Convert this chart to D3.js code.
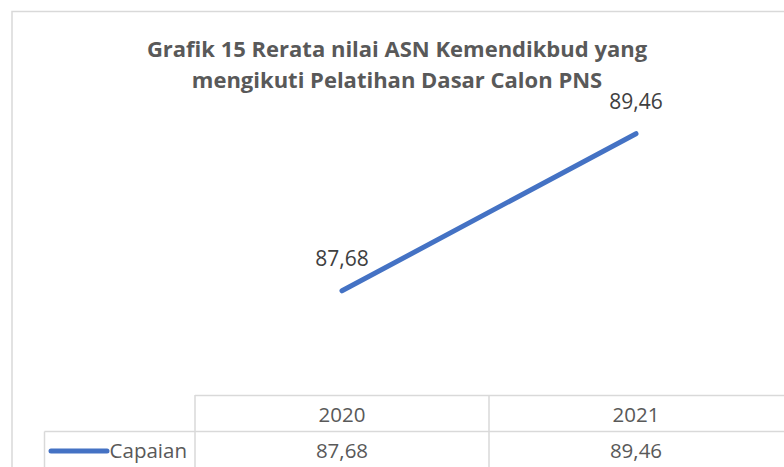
<!DOCTYPE html>
<html>
<head>
<meta charset="utf-8">
<script src="https://cdn.jsdelivr.net/npm/d3@7"></script>
<style>
  body { margin: 0; background: #fff; }
  svg { display: block; font-family: "Open Sans", sans-serif; }
</style>
</head>
<body>
<svg id="chart"></svg>
<script>
// data
var years = ["2020", "2021"];
var capaian = [87.68, 89.46];
var seriesName = "Capaian";
var titleLines = ["Grafik 15 Rerata nilai ASN Kemendikbud yang", "mengikuti Pelatihan Dasar Calon PNS"];
var yDomain = [86.5, 90];

const width = 784,
    height = 467;

const fmt = v => d3.format(".2f")(v).replace(".", ",");

const svg = d3.select("#chart")
    .attr("width", width)
    .attr("height", height);

// chart frame (right and bottom edges fall outside the crop)
svg.append("rect")
    .attr("x", 12).attr("y", 11.5)
    .attr("width", 820).attr("height", 500)
    .attr("fill", "#fff")
    .attr("stroke", "#d9d9d9")
    .attr("stroke-width", 1.5);

// title
svg.append("g").selectAll("text")
    .data(titleLines)
    .enter().append("text")
    .attr("x", 397)
    .attr("y", (d, i) => 57 + i * 31)
    .attr("text-anchor", "middle")
    .attr("font-size", 22)
    .attr("font-weight", "bold")
    .attr("fill", "#595959")
    .text(d => d);

const x = d3.scaleBand()
    .domain(years)
    .range([195, 783]);

const y = d3.scaleLinear()
    .domain(yDomain)
    .range([395, 86]);

const points = years.map((yr, i) => ({ year: yr, value: capaian[i] }));

const line = d3.line()
    .x(d => x(d.year) + x.bandwidth() / 2)
    .y(d => y(d.value));

svg.append("path")
    .datum(points)
    .attr("d", line)
    .attr("fill", "none")
    .attr("stroke", "#4472c4")
    .attr("stroke-width", 5)
    .attr("stroke-linecap", "round");

// data labels
svg.append("g").selectAll("text")
    .data(points)
    .enter().append("text")
    .attr("x", d => x(d.year) + x.bandwidth() / 2)
    .attr("y", d => y(d.value) - 25)
    .attr("text-anchor", "middle")
    .attr("font-size", 21)
    .attr("fill", "#404040")
    .text(d => fmt(d.value));

// data table under the plot
const tTop = y.range()[0],
    rowH = 37,
    legendLeft = 44.5;
const grid = svg.append("g")
    .attr("stroke", "#d9d9d9")
    .attr("stroke-width", 1.5);

grid.append("line")
    .attr("x1", x.range()[0]).attr("x2", width)
    .attr("y1", tTop + 0.5).attr("y2", tTop + 0.5);
grid.append("line")
    .attr("x1", legendLeft).attr("x2", width)
    .attr("y1", tTop + rowH - 0.5).attr("y2", tTop + rowH - 0.5);
grid.append("line")
    .attr("x1", legendLeft).attr("x2", legendLeft)
    .attr("y1", tTop + rowH - 0.5).attr("y2", height);
grid.selectAll(".vline")
    .data(years)
    .enter().append("line")
    .attr("class", "vline")
    .attr("x1", d => x(d)).attr("x2", d => x(d))
    .attr("y1", tTop).attr("y2", height);

// header row
svg.append("g").selectAll("text")
    .data(years)
    .enter().append("text")
    .attr("x", d => x(d) + x.bandwidth() / 2)
    .attr("y", tTop + 27)
    .attr("text-anchor", "middle")
    .attr("font-size", 20.5)
    .attr("fill", "#595959")
    .text(d => d);

// value row
svg.append("g").selectAll("text")
    .data(points)
    .enter().append("text")
    .attr("x", d => x(d.year) + x.bandwidth() / 2)
    .attr("y", tTop + rowH + 26)
    .attr("text-anchor", "middle")
    .attr("font-size", 20.5)
    .attr("fill", "#595959")
    .text(d => fmt(d.value));

// legend key in the table
svg.append("line")
    .attr("x1", 51).attr("x2", 107)
    .attr("y1", tTop + rowH + 19).attr("y2", tTop + rowH + 19)
    .attr("stroke", "#4472c4")
    .attr("stroke-width", 5)
    .attr("stroke-linecap", "round");

svg.append("text")
    .attr("x", x.range()[0] - 8)
    .attr("y", tTop + rowH + 26)
    .attr("text-anchor", "end")
    .attr("font-size", 20.5)
    .attr("fill", "#595959")
    .text(seriesName);
</script>
</body>
</html>
